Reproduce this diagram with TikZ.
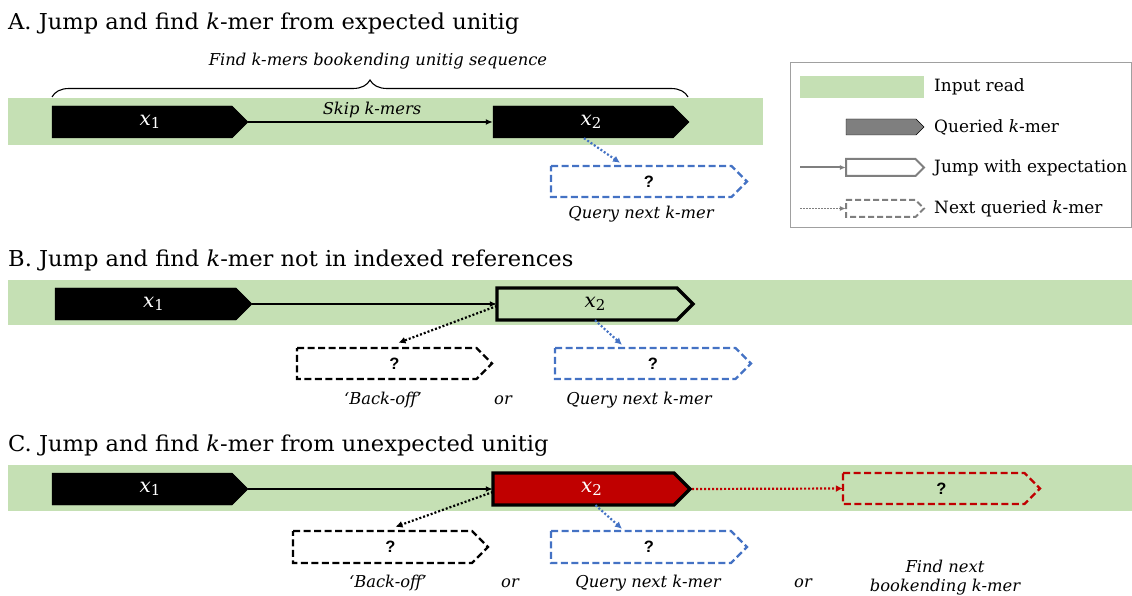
\documentclass[tikz,border=0pt]{standalone}
\usepackage{fontspec}
\setmainfont{DejaVu Serif}
\newfontfamily\titlefont[FakeStretch=1.03]{DejaVu Serif}
\newfontfamily\qmarkfont{Liberation Sans}
\usetikzlibrary{arrows.meta,decorations.pathreplacing,calc}

\definecolor{readgreen}{RGB}{197,224,180}
\definecolor{qblue}{RGB}{68,114,196}
\definecolor{kred}{RGB}{192,0,0}
\definecolor{lgray}{RGB}{127,127,127}
\definecolor{framegray}{RGB}{160,160,160}

% k-mer label x_i
\newcommand\xlab[1]{{\fontsize{20}{20}\selectfont\itshape x}\raisebox{-0.3em}{\fontsize{15}{15}\selectfont #1}}
\newcommand\qm{{\qmarkfont\bfseries\fontsize{16.5}{16.5}\selectfont ?}}

% pentagon k-mer: name, path style, x0, y0, x-tip, y1, node style, text
\newcommand\kmer[8]{%
  \pgfmathsetmacro\kmid{(#4+#6)/2}%
  \pgfmathsetmacro\kdep{(#6-#4)/2}%
  \pgfmathsetmacro\kbody{#5-\kdep}%
  \draw[#2] (#3,#4) -- (\kbody,#4) -- (#5,\kmid) -- (\kbody,#6) -- (#3,#6) -- cycle;
  \node[inner sep=0, minimum width={(#5-#3)*1bp}, minimum height={(#6-#4)*1bp}, #7]
    (#1) at ({(#3+#5)/2},\kmid) {#8};
}

\begin{document}
\begin{tikzpicture}[x=1bp,y=-1bp,
  ttl/.style={font=\titlefont\fontsize{22}{26}\selectfont, anchor=base west, inner sep=0},
  leg/.style={font=\fontsize{17}{20}\selectfont, anchor=base west, inner sep=0},
  lab/.style={font=\fontsize{16.4}{19}\selectfont\itshape, inner sep=0},
  jump/.style={line width=1.5bp, -{Latex[length=7bp,width=6bp]}},
  dotarrow/.style={line width=2.2bp, dash pattern=on 2bp off 2bp, -{Latex[length=7bp,width=7bp]}},
  dashbox/.style={line width=2.3bp, dash pattern=on 7bp off 3.5bp},
  thickbox/.style={line width=3.2bp, line join=miter}
]
\useasboundingbox (0,0) rectangle (1132,596);

% ---------------- A ----------------
\node[ttl] (tA) at (8,30) {A. Jump and find \textit{k}-mer from expected unitig};
\fill[readgreen] (8,98) rectangle (763,145);
\kmer{x1A}{fill=black}{52}{106}{248}{138}{text=white}{\xlab{1}}
\kmer{x2A}{fill=black}{493}{106}{689}{138}{text=white}{\xlab{2}}
\kmer{qA}{dashbox, draw=qblue, fill=white}{551}{166}{747}{197}{}{\qm}
\draw[jump] (x1A.east) -- (x2A.west);
\node[lab] (skipA) at (372,110) {Skip k-mers};
\draw[dotarrow, qblue] ([xshift=-7bp]x2A.south) -- ([xshift=-29bp,yshift=3bp]qA.north);
\node[lab] (qlabA) at (641,214) {Query next k-mer};
\draw[line width=1.1bp, decorate, decoration={brace, amplitude=17bp}] (52,97) -- (688,97);
\node[lab] (braceA) at (378,61) {Find k-mers bookending unitig sequence};

% ---------------- legend ----------------
\draw[framegray, line width=1bp] (790,63) rectangle (1131,228);
\fill[readgreen] (800,76) rectangle (924,98);
\node[leg] (lg1) at (934,92) {Input read};
\kmer{lgQ}{fill=lgray}{846}{119}{924}{135}{}{}
\node[leg] (lg2) at (934,133) {Queried \textit{k}-mer};
\kmer{lgJ}{draw=lgray, line width=2bp, fill=white}{846}{159}{924}{176}{}{}
\coordinate (lgJs) at (800,167.5);
\draw[lgray, line width=2bp, -{Latex[length=6bp,width=5bp]}] (lgJs) -- (lgJ.west);
\node[leg] (lg3) at (934,173) {Jump with expectation};
\kmer{lgN}{draw=lgray, line width=2bp, dash pattern=on 6bp off 3bp}{846}{200}{924}{217}{}{}
\coordinate (lgNs) at (800,208.5);
\draw[lgray, line width=1.8bp, dash pattern=on 1.5bp off 1.5bp, -{Latex[length=6bp,width=5bp]}] (lgNs) -- (lgN.west);
\node[leg] (lg4) at (934,214) {Next queried \textit{k}-mer};

% ---------------- B ----------------
\node[ttl] (tB) at (8,267) {B. Jump and find \textit{k}-mer not in indexed references};
\fill[readgreen] (8,280) rectangle (1132,325);
\kmer{x1B}{fill=black}{55}{288}{252}{320}{text=white}{\xlab{1}}
\kmer{x2B}{thickbox, draw=black}{497}{288}{693}{320}{}{\xlab{2}}
\kmer{boB}{dashbox, draw=black, fill=white}{297}{348}{492}{379}{}{\qm}
\kmer{qB}{dashbox, draw=qblue, fill=white}{555}{348}{751}{379}{}{\qm}
\draw[jump] (x1B.east) -- (x2B.west);
\draw[dotarrow] ([yshift=-2bp]x2B.west) -- ([xshift=4bp,yshift=5bp]boB.north);
\draw[dotarrow, qblue] (x2B.south) -- ([xshift=-31bp,yshift=3bp]qB.north);
\node[lab] (boLabB) at (383,400) {‘Back-off’};
\node[lab] (orB) at (503,400) {or};
\node[lab] (qlabB) at (639,400) {Query next k-mer};

% ---------------- C ----------------
\node[ttl] (tC) at (8,451) {C. Jump and find \textit{k}-mer from unexpected unitig};
\fill[readgreen] (8,465) rectangle (1132,511);
\kmer{x1C}{fill=black}{52}{473}{248}{505}{text=white}{\xlab{1}}
\kmer{x2C}{thickbox, draw=black, fill=kred}{493}{473}{690}{505}{text=white}{\xlab{2}}
\kmer{rC}{dashbox, draw=kred}{843}{473}{1040}{504}{}{\qm}
\kmer{boC}{dashbox, draw=black, fill=white}{293}{531}{488}{563}{}{\qm}
\kmer{qC}{dashbox, draw=qblue, fill=white}{551}{531}{747}{563}{}{\qm}
\draw[jump] (x1C.east) -- (x2C.west);
\draw[dotarrow, kred] ([xshift=2bp]x2C.east) -- (rC.west);
\draw[dotarrow] ([yshift=-3bp]x2C.west) -- ([xshift=5bp,yshift=4bp]boC.north);
\draw[dotarrow, qblue] ([xshift=4bp]x2C.south) -- ([xshift=-27bp,yshift=2bp]qC.north);
\node[lab] (boLabC) at (388,583) {‘Back-off’};
\node[lab] (orC1) at (510,583) {or};
\node[lab] (qlabC) at (648,583) {Query next k-mer};
\node[lab] (orC2) at (803,583) {or};
\node[lab, align=center] (findC) at (945,578) {Find next\\bookending k-mer};
\end{tikzpicture}
\end{document}
